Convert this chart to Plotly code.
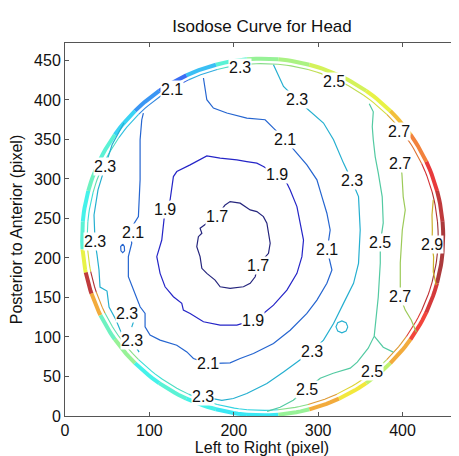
import numpy as np
import plotly.graph_objects as go
from plotly.colors import sample_colorscale, unlabel_rgb

# ---------------- data (data units: pixels of the scan) -------------
# Isodose curves: level + path points
c17_x = [189.8, 195.7, 207.6, 219.5, 227.4, 235.2, 239.3, 241.2, 243.2, 241.2, 228.9, 225.4, 219.5,
         211.5, 195.7, 183.9, 177.9, 168.1, 162.2, 160.1, 156.2, 158.1, 162.2, 160.1, 166.1, 168.1,
         179.9, 189.8]
c17_y = [267.1, 271.3, 269.3, 260.8, 258.6, 252.3, 243.9, 231.2, 218.6, 205.9, 191.0, 176.2, 167.9,
         163.5, 161.5, 163.5, 172.0, 180.5, 186.9, 201.6, 214.3, 226.9, 231.2, 237.6, 241.8, 243.9,
         252.6, 267.1]

c19_x = [235.2, 227.4, 215.5, 203.7, 183.9, 168.1, 148.3, 132.5, 128.5, 126.6, 124.6, 118.6, 116.6,
         114.7, 108.8, 112.7, 118.6, 128.5, 138.4, 140.3, 148.3, 164.1, 183.9, 203.7, 223.4, 235.2,
         247.1, 263.0, 274.9, 280.8, 282.7, 278.8, 274.9, 266.9, 263.0, 251.1, 235.2]
c19_y = [315.7, 320.0, 322.0, 324.2, 326.3, 329.2, 317.8, 309.3, 303.0, 286.1, 273.5, 260.8, 243.9,
         222.7, 201.6, 180.5, 163.5, 150.9, 142.5, 134.0, 129.8, 119.2, 115.0, 115.0, 121.3, 129.8,
         140.3, 159.4, 180.5, 201.6, 222.7, 243.9, 265.0, 286.1, 294.6, 305.3, 315.7]

c21_x = [92.9, 91.0, 89.0, 89.0, 87.0, 77.1, 79.1, 75.1, 75.1, 81.0, 89.0, 94.9, 94.9, 100.8, 112.7,
         132.5, 144.4, 152.2, 170.0, 195.7, 207.6, 223.4, 247.1, 266.9, 286.7, 298.6, 310.4, 316.4,
         310.8, 314.3, 310.4, 304.5, 298.6, 286.7, 270.8, 261.0, 247.1, 237.2, 215.5, 191.8, 175.9,
         168.1, 164.1]
c21_y = [383.4, 374.9, 349.6, 298.9, 252.3, 235.4, 218.6, 201.6, 176.2, 159.4, 138.2, 129.8, 112.8,
         102.3, 96.0, 89.6, 81.1, 72.8, 66.4, 67.2, 72.8, 79.1, 91.8, 108.6, 129.8, 146.7, 167.9, 184.7,
         210.1, 235.4, 256.6, 277.6, 298.8, 317.8, 336.8, 349.6, 364.3, 374.9, 377.0, 383.4, 389.7,
         400.2, 427.7]
c21_loop_x = [68.4, 70.3, 70.6, 68.4, 66.3, 66.0, 68.4]
c21_loop_y = [217.5, 214.5, 209.0, 206.8, 209.0, 214.5, 217.5]

c23_right_x = [154.2, 164.1, 185.9, 199.6, 215.5, 239.3, 259.0, 278.8, 292.6, 306.4, 318.3, 330.1,
               342.0, 347.9, 349.9, 347.9, 340.1, 330.1, 318.3, 306.4, 290.6, 274.9, 259.0, 251.1, 247.1]
c23_right_y = [18.6, 24.1, 19.9, 22.1, 28.4, 41.1, 55.8, 70.7, 82.0, 96.0, 117.1, 142.5,
               167.9, 193.2, 235.4, 277.6, 297.5, 320.0, 349.6, 370.7, 385.4, 400.2, 417.1, 434.1, 444.6]
c23_left_x = [70.0, 55.8, 47.4, 39.1, 34.4, 35.6, 38.0, 40.3, 41.5, 49.8, 52.2, 60.5, 66.4, 79.5, 87.8]
c23_left_y = [371.1, 343.2, 315.3, 286.1, 254.4, 220.2, 203.7, 184.7, 163.2, 158.1, 137.8, 121.4,
              106.1, 96.0, 80.8]
c23_hook_x = [83.0, 79.1]
c23_hook_y = [125.1, 112.4]
c23_loop_x = [335.2, 333.1, 328.2, 323.3, 321.2, 323.3, 328.2, 333.1, 335.2]
c23_loop_y = [112.8, 118.2, 120.4, 118.2, 112.8, 107.4, 105.2, 107.4, 112.8]

c25_x = [239.6, 255.0, 270.5, 287.1, 302.5, 317.9, 338.1, 346.4, 359.4, 366.5, 368.9, 371.3, 373.7,
         373.7, 377.2, 376.0, 371.3, 367.7, 365.4, 364.2, 365.4, 360.6]
c25_y = [5.9, 11.0, 19.9, 33.9, 47.8, 54.1, 60.5, 68.1, 85.8, 101.0, 125.1, 150.5, 193.6,
         219.0, 244.3, 277.3, 307.7, 328.0, 349.6, 366.0, 385.0, 395.2]
c25_branch_x = [366.5, 377.2, 389.1]
c25_branch_y = [101.0, 87.1, 80.8]

c27_x = [398.6, 399.4, 400.9, 403.3, 399.8, 397.4, 397.4, 397.4, 403.3, 410.4, 416.4]
c27_y = [314.0, 305.2, 277.3, 260.8, 235.4, 193.6, 168.2, 150.5, 134.0, 121.4, 106.1]

c29_x = [436.5, 435.0, 435.4, 435.0, 436.9, 436.5, 440.1]
c29_y = [273.5, 254.4, 235.4, 216.4, 201.2, 182.2, 165.7]

curves = [
    (1.7, c17_x, c17_y), (1.9, c19_x, c19_y),
    (2.1, c21_x, c21_y), (2.1, c21_loop_x, c21_loop_y),
    (2.3, c23_right_x, c23_right_y), (2.3, c23_left_x, c23_left_y),
    (2.3, c23_hook_x, c23_hook_y), (2.3, c23_loop_x, c23_loop_y),
    (2.5, c25_x, c25_y), (2.5, c25_branch_x, c25_branch_y),
    (2.7, c27_x, c27_y), (2.9, c29_x, c29_y),
]

# contour labels
label_text = ["1.7", "1.7", "1.9", "1.9", "1.9", "2.1", "2.1", "2.1", "2.1", "2.1",
              "2.3", "2.3", "2.3", "2.3", "2.3", "2.3", "2.3", "2.3", "2.3",
              "2.5", "2.5", "2.5", "2.5", "2.7", "2.7", "2.7", "2.9"]
label_x = [179.9, 228.9, 118.6, 251.1, 223.4, 126.6, 80.7, 170.0, 310.8, 261.0,
           207.6, 274.9, 340.1, 292.6, 164.1, 47.4, 35.6, 73.1, 79.1,
           318.3, 373.7, 364.2, 287.1, 395.4, 397.4, 397.4, 435.0]
label_y = [252.6, 191.0, 260.8, 305.3, 121.3, 412.9, 232.8, 66.4, 210.1, 349.6,
           440.8, 400.2, 297.5, 82.0, 24.1, 315.3, 220.2, 129.8, 96.0,
           423.5, 219.0, 56.4, 33.9, 360.0, 320.0, 150.9, 216.4]

# head outline (rim) where the dose jumps: angle (deg) and dose along it
rim_angle = [0, 10, 20, 30, 40, 50, 60, 70, 80, 90, 100, 110, 120, 130, 140, 150, 160, 170,
             180, 188, 195, 202, 210, 220, 230, 240, 250, 260, 270, 280, 290, 300, 310, 320,
             330, 340, 350]
rim_dose = [3.45, 3.4, 3.3, 3.1, 2.95, 2.8, 2.75, 2.75, 2.65, 2.6, 2.45, 2.25, 2.05, 2.15, 2.3,
            2.45, 2.5, 2.4, 2.45, 2.8, 3.4, 3.0, 2.5, 2.6, 2.4, 2.45, 2.4, 2.35, 2.35, 2.6,
            3.0, 2.85, 2.7, 3.0, 3.25, 3.35, 3.45]
rim_center = (234.3, 226.5)
rim_radius = (214.0, 225.7)

# ---------------- styling ----------------
JET = [[0.0, "rgb(0,0,128)"], [0.125, "rgb(0,0,255)"], [0.375, "rgb(0,255,255)"],
       [0.625, "rgb(255,255,0)"], [0.875, "rgb(255,0,0)"], [1.0, "rgb(128,0,0)"]]
CMIN, CMAX = 1.7, 3.5
FONT = "Liberation Sans, Arial, Helvetica, sans-serif"
# the page adds an 8px body margin; the figure is sized so the axes land where the reference has them
PAGE_OFF = 8


def dose_color(v, mute=0.0):
    t = min(max((v - CMIN) / (CMAX - CMIN), 0.0), 1.0)
    r, g, b = unlabel_rgb(sample_colorscale(JET, [t])[0])
    gray = (105, 105, 120)
    r, g, b = [(1 - mute) * c + mute * q for c, q in zip((r, g, b), gray)]
    return "rgb(%d,%d,%d)" % (round(r), round(g), round(b))


fig = go.Figure()

# rim band
n = len(rim_angle)
for i in range(n):
    a = rim_angle[i]
    prev_a = rim_angle[i - 1] - (360 if i == 0 else 0)
    next_a = rim_angle[(i + 1) % n] + (360 if i == n - 1 else 0)
    th = np.radians(np.linspace((prev_a + a) / 2, (a + next_a) / 2, 8))
    for scale, width, op, mute in ((1.0, 4.0, 0.8, 0.1), (0.972, 1.1, 0.9, 0.25)):
        fig.add_trace(go.Scatter(
            x=rim_center[0] + scale * rim_radius[0] * np.cos(th),
            y=rim_center[1] + scale * rim_radius[1] * np.sin(th),
            mode="lines", line=dict(color=dose_color(rim_dose[i], mute), width=width),
            opacity=op, showlegend=False, hoverinfo="skip"))

# isodose curves
for lev, xs, ys in curves:
    fig.add_trace(go.Scatter(x=xs, y=ys, mode="lines",
                             line=dict(color=dose_color(lev, 0.35), width=1.2),
                             showlegend=False, hoverinfo="skip"))

for t, x, y in zip(label_text, label_x, label_y):
    fig.add_annotation(x=x, y=y, text=t, showarrow=False, xref="x", yref="y",
                       font=dict(family=FONT, size=16, color="#111"),
                       bgcolor="white", borderpad=0)

axis_common = dict(showgrid=False, zeroline=False, showline=True, linecolor="#555",
                   linewidth=1, mirror="ticks", ticks="inside", ticklen=4, tickcolor="#555",
                   tickfont=dict(family=FONT, size=16, color="#111"))

W, H = 459 - PAGE_OFF, 456 - PAGE_OFF
fig.update_layout(
    width=W, height=H,
    margin=dict(l=65 - PAGE_OFF, r=0, t=43 - PAGE_OFF, b=40, autoexpand=False),
    paper_bgcolor="white", plot_bgcolor="white",
    title=dict(text="Isodose Curve for Head", x=0.5, xref="paper", xanchor="center",
               y=1 - (26 - PAGE_OFF) / H, yanchor="middle", yref="container",
               font=dict(family=FONT, size=17, color="#111")),
    xaxis=dict(range=[0, 467], tickvals=[0, 100, 200, 300, 400],
               title=dict(text="Left to Right (pixel)", standoff=2,
                          font=dict(family=FONT, size=16, color="#111")),
               automargin=False, **axis_common),
    yaxis=dict(range=[0, 472], tickvals=list(range(0, 451, 50)),
               title=dict(text="Posterior to Anterior (pixel)", standoff=12,
                          font=dict(family=FONT, size=16, color="#111")),
               automargin=False, **axis_common),
)

fig.write_html("out.html")
